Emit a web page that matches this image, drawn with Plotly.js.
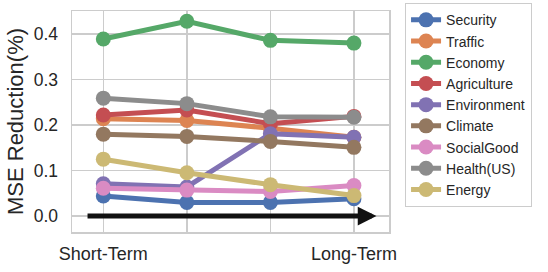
<!DOCTYPE html>
<html>
<head>
<meta charset="utf-8">
<script src="https://cdn.plot.ly/plotly-3.0.1.min.js"></script>
<style>html,body{margin:0;padding:0;background:#fff;}#chart{width:548px;height:272px;}</style>
</head>
<body>
<div id="chart"></div>
<script>
const xPositions = [0, 1, 2, 3];
const tickLabels = ["Short-Term", "", "", "Long-Term"];
const seriesNames = ["Security", "Traffic", "Economy", "Agriculture", "Environment", "Climate", "SocialGood", "Health(US)", "Energy"];
const colors = ["#4C72B0", "#DD8452", "#55A868", "#C44E52", "#8172B3", "#937860", "#DA8BC3", "#8C8C8C", "#CCB974"];
const security    = [0.044, 0.030, 0.030, 0.038];
const traffic     = [0.214, 0.210, 0.193, 0.173];
const economy     = [0.389, 0.428, 0.386, 0.380];
const agriculture = [0.222, 0.233, 0.203, 0.219];
const environment = [0.071, 0.064, 0.181, 0.173];
const climate     = [0.180, 0.175, 0.164, 0.151];
const socialGood  = [0.061, 0.057, 0.054, 0.067];
const health      = [0.259, 0.247, 0.218, 0.217];
const energy      = [0.125, 0.095, 0.069, 0.045];
const seriesValues = [security, traffic, economy, agriculture, environment, climate, socialGood, health, energy];

const traces = seriesNames.map((name, i) => ({
  x: xPositions, y: seriesValues[i], name: name, type: 'scatter', mode: 'lines+markers',
  line: {color: colors[i], width: 5},
  marker: {color: colors[i], size: 15}
}));

const gridColor = '#cccccc';
const layout = {
  width: 548, height: 272,
  margin: {l: 72, r: 159, t: 11, b: 40, autoexpand: false},
  paper_bgcolor: '#fff', plot_bgcolor: '#fff',
  font: {family: 'Liberation Sans, Arial, sans-serif', color: '#262626'},
  showlegend: true,
  legend: {
    x: 1.05, y: 1.036, xanchor: 'left', yanchor: 'top',
    bordercolor: gridColor, borderwidth: 1.2,
    font: {size: 14, color: '#262626'},
    tracegroupgap: 0, maxheight: 270
  },
  xaxis: {
    range: [-0.375, 3.42], tickvals: xPositions, ticktext: tickLabels,
    showgrid: true, gridcolor: gridColor, gridwidth: 1.5,
    showline: true, mirror: true, linecolor: gridColor, linewidth: 1.5,
    zeroline: false, ticks: 'outside', ticklen: 5, tickcolor: 'rgba(0,0,0,0)',
    tickfont: {size: 18}
  },
  yaxis: {
    range: [-0.035, 0.4505], tickvals: [0, 0.1, 0.2, 0.3, 0.4], tickformat: '.1f',
    showgrid: true, gridcolor: gridColor, gridwidth: 1.5,
    showline: true, mirror: true, linecolor: gridColor, linewidth: 1.5,
    zeroline: false, ticks: 'outside', ticklen: 9, tickcolor: 'rgba(0,0,0,0)',
    tickfont: {size: 17.5},
    title: {text: 'MSE Reduction(%)', font: {size: 22}, standoff: 4}
  },
  annotations: [{
    x: 3.27, y: 0, ax: -0.207, ay: 0, xref: 'x', yref: 'y', axref: 'x', ayref: 'y',
    showarrow: true, arrowhead: 2, arrowsize: 0.75, arrowwidth: 5, arrowcolor: '#111111', text: ''
  }]
};
Plotly.newPlot('chart', traces, layout, {displayModeBar: false, staticPlot: true});
</script>
</body>
</html>
